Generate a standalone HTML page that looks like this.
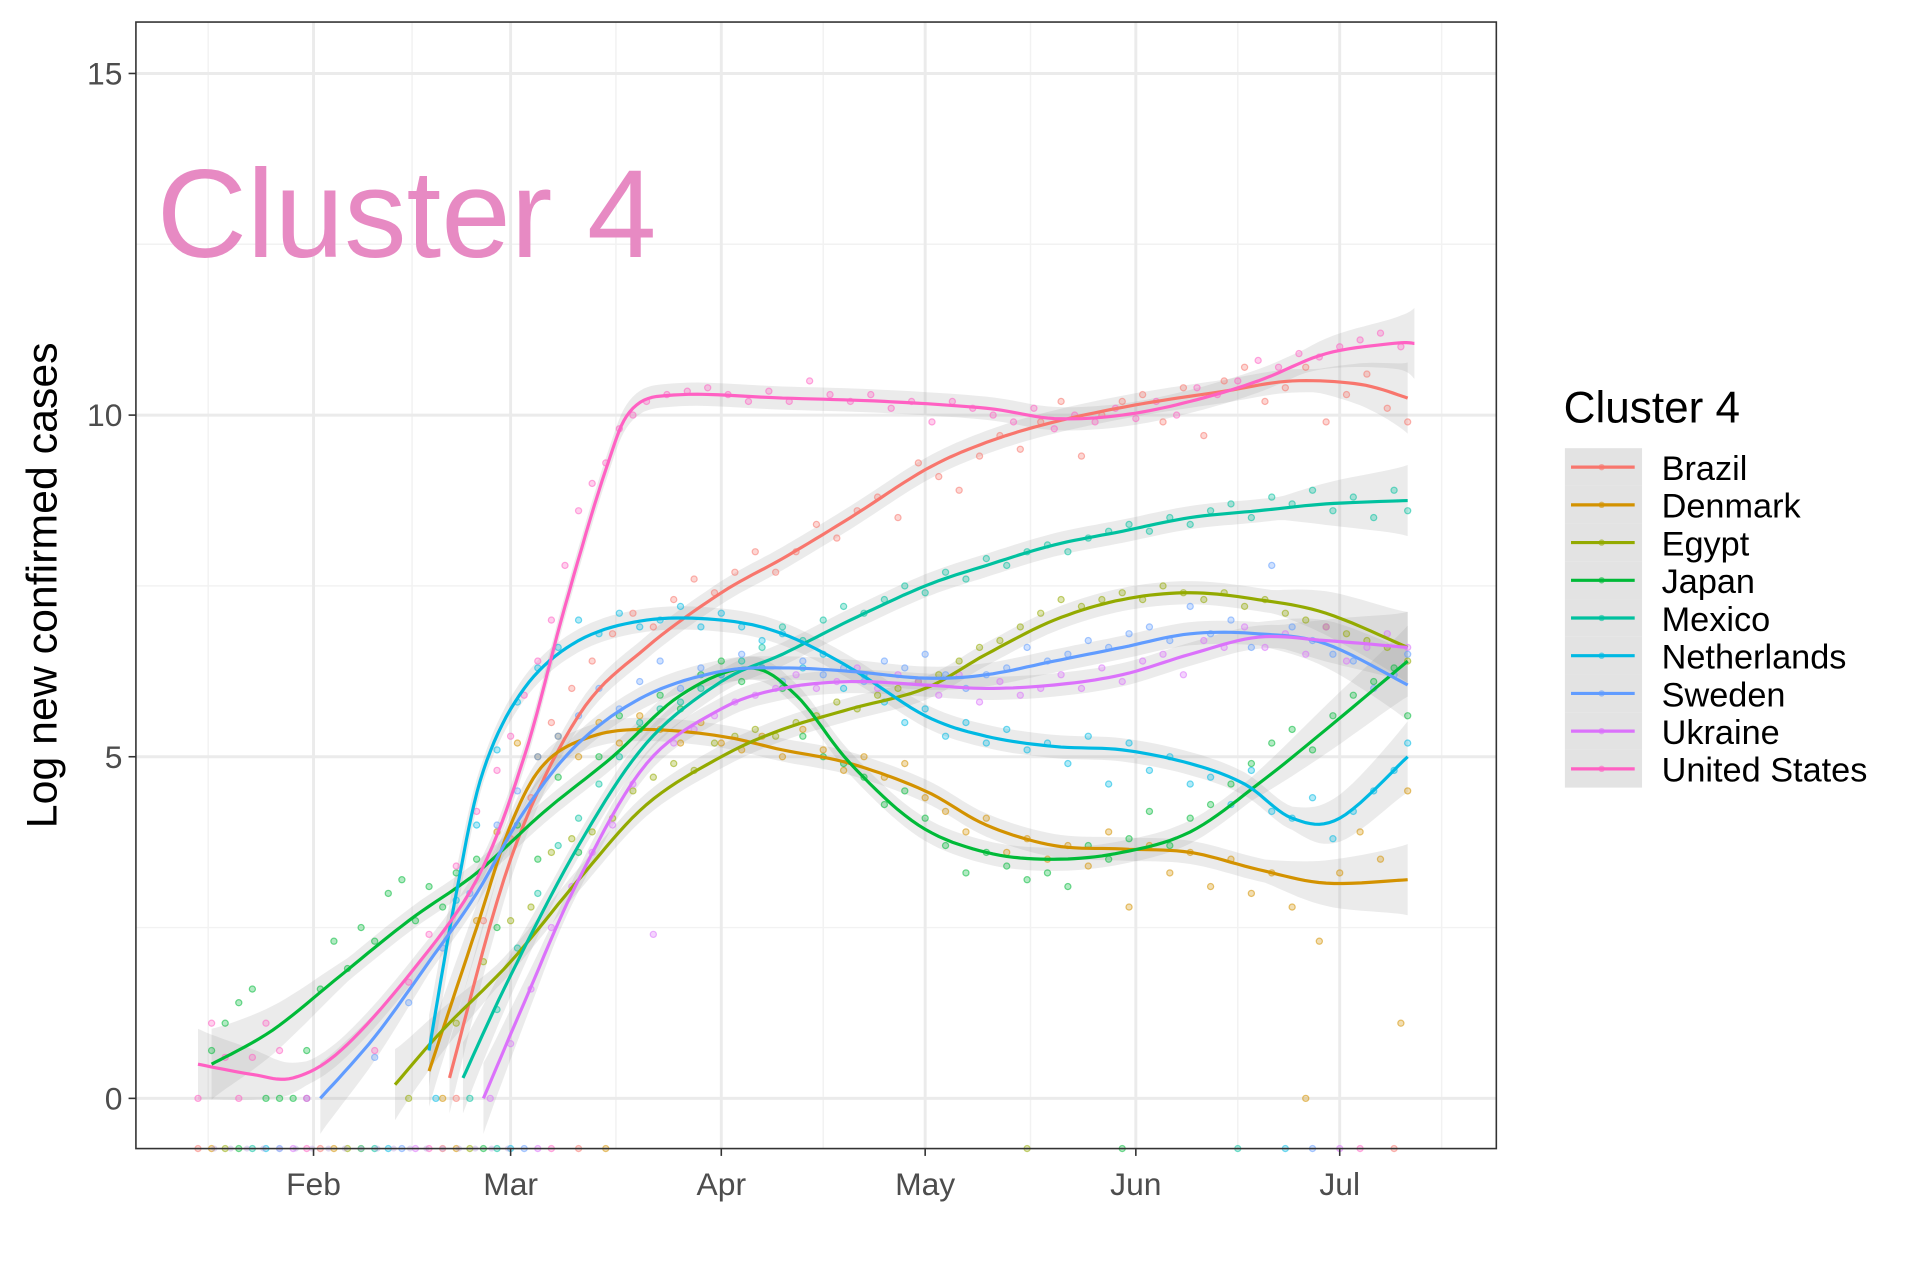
<!DOCTYPE html>
<html><head><meta charset="utf-8"><style>
html,body{margin:0;padding:0;background:#fff;}
svg{display:block;font-family:"Liberation Sans",Arial,sans-serif;}
</style></head><body>
<svg id="chart" width="1920" height="1280" viewBox="0 0 1568 1045.33" xmlns="http://www.w3.org/2000/svg">
<rect x="0" y="0" width="1568" height="1046" fill="#fff"/>
<g id="grid"></g>
<g id="bands"></g>
<g id="points"></g>
<g id="lines"></g>
<rect x="111" y="18" width="1111" height="920" fill="none" stroke="#333" stroke-width="1.3"/>
<g id="axes"></g>
<text x="128" y="210" font-size="102" fill="#E78AC3">Cluster 4</text>
<text transform="translate(46,478) rotate(-90)" text-anchor="middle" font-size="35" fill="#000">Log new confirmed cases</text>
<g id="legend">
<text x="1277" y="345" font-size="36" fill="#000">Cluster 4</text>
</g>
</svg>
<script>
const NS="http://www.w3.org/2000/svg";
const seriesNames=["Brazil","Denmark","Egypt","Japan","Mexico","Netherlands","Sweden","Ukraine","United States"];
const seriesColors=["#F8766D","#D39200","#93AA00","#00BA38","#00C19F","#00B9E3","#619CFF","#DB72FB","#FF61C3"];
const monthLabels=["Feb","Mar","Apr","May","Jun","Jul"];
const monthDays=[31,60,91,121,152,182];
const yTicks=[0,5,10,15];
const smoothBrazil=[[51,0.3],[60,3.5],[70,5.6],[80,6.6],[91,7.4],[100,7.9],[110,8.5],[121,9.2],[130,9.6],[140,9.9],[152,10.15],[165,10.35],[175,10.5],[185,10.45],[192,10.25]];
const smoothDenmark=[[48,0.4],[55,2.5],[60,4.0],[65,4.9],[72,5.3],[80,5.4],[91,5.3],[100,5.1],[110,4.9],[121,4.5],[130,4.0],[140,3.7],[150,3.65],[160,3.6],[170,3.35],[180,3.15],[192,3.2]];
const smoothEgypt=[[43,0.2],[50,1.0],[60,2.0],[70,3.2],[80,4.3],[91,5.0],[100,5.4],[110,5.7],[121,6.0],[130,6.5],[140,7.0],[150,7.3],[160,7.4],[170,7.3],[180,7.1],[192,6.6]];
const smoothJapan=[[16,0.5],[25,1.0],[35,1.8],[45,2.6],[55,3.3],[65,4.2],[75,5.0],[85,5.9],[95,6.3],[102,5.9],[110,4.9],[120,4.0],[130,3.6],[140,3.5],[150,3.6],[160,3.9],[170,4.6],[180,5.4],[192,6.4]];
const smoothMexico=[[53,0.3],[60,1.8],[70,3.7],[80,5.2],[91,6.1],[100,6.5],[110,7.0],[121,7.5],[130,7.8],[140,8.1],[150,8.3],[160,8.5],[170,8.6],[180,8.7],[192,8.75]];
const smoothNetherlands=[[48,0.7],[52,3.0],[56,4.8],[62,6.0],[70,6.7],[80,7.0],[91,7.0],[100,6.8],[110,6.3],[121,5.6],[130,5.3],[140,5.15],[150,5.1],[160,4.9],[168,4.6],[175,4.1],[182,4.1],[192,5.0]];
const smoothSweden=[[32,0.0],[40,0.9],[48,2.0],[55,3.0],[62,4.2],[70,5.2],[80,5.9],[91,6.25],[100,6.3],[110,6.25],[121,6.15],[130,6.2],[140,6.4],[150,6.6],[160,6.8],[170,6.8],[180,6.65],[192,6.05]];
const smoothUkraine=[[56,0.0],[62,1.4],[70,3.2],[80,4.9],[91,5.7],[100,6.0],[110,6.1],[121,6.05],[130,6.0],[140,6.05],[150,6.2],[160,6.5],[170,6.75],[180,6.7],[192,6.6]];
const smoothUS=[[14,0.5],[22,0.35],[28,0.3],[35,0.7],[45,1.8],[55,3.2],[62,5.0],[68,7.2],[74,9.2],[78,10.1],[85,10.3],[100,10.25],[115,10.2],[130,10.1],[140,9.95],[150,10.0],[160,10.2],[170,10.5],[180,10.9],[190,11.05],[193,11.05]];
const ptsBrazil=[[52,0],[56,2.6],[60,3.8],[63,4.4],[66,5.5],[69,6.0],[72,6.4],[75,6.8],[78,7.1],[81,6.9],[84,7.3],[87,7.6],[90,7.4],[93,7.7],[96,8.0],[99,7.7],[102,8.0],[105,8.4],[108,8.2],[111,8.6],[114,8.8],[117,8.5],[120,9.3],[123,9.1],[126,8.9],[129,9.4],[132,9.7],[135,9.5],[138,9.9],[141,10.2],[144,9.4],[147,10.0],[150,10.2],[153,10.3],[156,9.9],[159,10.4],[162,9.7],[165,10.5],[168,10.7],[171,10.2],[174,10.4],[177,10.7],[180,9.9],[183,10.3],[186,10.6],[189,10.1],[192,9.9]];
const ptsDenmark=[[50,0],[55,2.6],[58,3.9],[61,5.2],[64,5.0],[67,5.3],[70,5.0],[73,5.5],[76,5.2],[79,5.6],[82,5.4],[85,5.2],[88,5.5],[91,5.2],[94,5.1],[97,5.3],[100,5.0],[103,5.4],[106,5.1],[109,4.8],[112,5.0],[115,4.7],[118,4.9],[121,4.4],[124,4.2],[127,3.9],[130,4.1],[133,3.6],[136,3.8],[139,3.5],[142,3.7],[145,3.4],[148,3.9],[151,2.8],[154,3.7],[157,3.3],[160,3.6],[163,3.1],[166,3.5],[169,3.0],[172,3.3],[175,2.8],[177,0],[179,2.3],[182,3.3],[185,3.9],[188,3.5],[191,1.1],[192,4.5]];
const ptsEgypt=[[45,0],[52,1.1],[56,2.0],[60,2.6],[63,2.8],[66,3.6],[69,3.8],[72,3.9],[75,4.1],[78,4.5],[81,4.7],[84,4.9],[87,4.8],[90,5.2],[93,5.3],[96,5.4],[99,5.3],[102,5.5],[105,5.6],[108,5.8],[111,5.7],[114,5.9],[117,6.0],[120,6.1],[123,6.2],[126,6.4],[129,6.6],[132,6.7],[135,6.9],[138,7.1],[141,7.3],[144,7.2],[147,7.3],[150,7.4],[153,7.3],[156,7.5],[159,7.4],[162,7.3],[165,7.4],[168,7.2],[171,7.3],[174,7.1],[177,7.0],[180,6.9],[183,6.8],[186,6.7],[189,6.6],[192,6.4]];
const ptsJapan=[[16,0.7],[18,1.1],[20,1.4],[22,1.6],[24,0],[26,0],[28,0],[30,0.7],[32,1.6],[34,2.3],[36,1.9],[38,2.5],[40,2.3],[42,3.0],[44,3.2],[46,2.6],[48,3.1],[50,2.8],[52,3.3],[55,3.5],[58,2.5],[61,4.0],[64,3.5],[67,4.7],[70,3.6],[73,5.0],[76,5.6],[79,5.4],[82,5.9],[85,5.7],[88,6.2],[91,6.4],[94,6.1],[97,6.3],[100,6.0],[103,5.3],[106,5.0],[109,4.9],[112,4.7],[115,4.3],[118,4.5],[121,4.1],[124,3.7],[127,3.3],[130,3.6],[133,3.4],[136,3.2],[139,3.3],[142,3.1],[145,3.7],[148,3.5],[151,3.8],[154,4.2],[157,3.7],[160,4.1],[163,4.3],[166,4.6],[169,4.9],[172,5.2],[175,5.4],[178,5.1],[181,5.6],[184,5.9],[187,6.1],[190,6.3],[192,5.6]];
const ptsMexico=[[54,0],[58,1.3],[61,2.2],[64,3.0],[67,3.7],[70,4.1],[73,4.6],[76,5.0],[79,5.5],[82,5.7],[85,5.8],[88,6.0],[91,6.2],[94,6.4],[97,6.6],[100,6.9],[103,6.7],[106,7.0],[109,7.2],[112,7.1],[115,7.3],[118,7.5],[121,7.4],[124,7.7],[127,7.6],[130,7.9],[133,7.8],[136,8.0],[139,8.1],[142,8.0],[145,8.2],[148,8.3],[151,8.4],[154,8.3],[157,8.5],[160,8.4],[163,8.6],[166,8.7],[169,8.5],[172,8.8],[175,8.7],[178,8.9],[181,8.6],[184,8.8],[187,8.5],[190,8.9],[192,8.6]];
const ptsNetherlands=[[49,0],[52,2.9],[55,4.0],[58,5.1],[61,5.8],[64,6.3],[67,6.6],[70,7.0],[73,6.8],[76,7.1],[79,6.9],[82,7.0],[85,7.2],[88,6.9],[91,7.1],[94,6.9],[97,6.7],[100,6.8],[103,6.3],[106,6.5],[109,6.0],[112,6.2],[115,5.8],[118,5.5],[121,5.7],[124,5.3],[127,5.5],[130,5.2],[133,5.4],[136,5.1],[139,5.2],[142,4.9],[145,5.3],[148,4.6],[151,5.2],[154,4.8],[157,5.0],[160,4.6],[163,4.7],[166,4.3],[169,4.8],[172,4.2],[175,4.1],[178,4.4],[181,3.8],[184,4.2],[187,4.5],[190,4.8],[192,5.2]];
const ptsSweden=[[30,0],[40,0.6],[45,1.4],[50,2.2],[54,3.0],[58,4.0],[61,4.5],[64,5.0],[67,5.3],[70,5.6],[73,6.0],[76,5.7],[79,6.1],[82,6.4],[85,6.0],[88,6.3],[91,6.2],[94,6.5],[97,6.3],[100,6.1],[103,6.4],[106,6.2],[109,6.3],[112,6.1],[115,6.4],[118,6.3],[121,6.5],[124,6.2],[127,6.0],[130,6.2],[133,6.3],[136,6.6],[139,6.4],[142,6.5],[145,6.7],[148,6.6],[151,6.8],[154,6.9],[157,6.7],[160,7.2],[163,6.8],[166,7.0],[169,6.6],[172,7.8],[175,6.9],[178,6.7],[181,6.5],[184,6.4],[187,6.0],[190,6.2],[192,6.5]];
const ptsUkraine=[[57,0],[60,0.8],[63,1.6],[66,2.5],[69,3.1],[72,3.6],[75,4.0],[78,4.6],[81,2.4],[84,5.2],[87,5.4],[90,5.6],[93,5.8],[96,5.9],[99,6.0],[102,6.2],[105,6.0],[108,6.1],[111,6.3],[114,6.0],[117,6.2],[120,6.1],[123,5.9],[126,6.2],[129,5.8],[132,6.1],[135,5.9],[138,6.0],[141,6.2],[144,6.0],[147,6.3],[150,6.1],[153,6.4],[156,6.5],[159,6.2],[162,6.7],[165,6.6],[168,6.9],[171,6.6],[174,6.8],[177,6.5],[180,6.9],[183,6.4],[186,6.6],[189,6.8],[192,6.6]];
const ptsUS=[[14,0],[16,1.1],[18,0.6],[20,0],[22,0.6],[24,1.1],[26,0.7],[30,0],[40,0.7],[45,1.7],[48,2.4],[52,3.4],[55,4.2],[58,4.8],[60,5.3],[62,5.9],[64,6.4],[66,7.0],[68,7.8],[70,8.6],[72,9.0],[74,9.3],[76,9.8],[78,10.0],[80,10.2],[83,10.3],[86,10.35],[89,10.4],[92,10.3],[95,10.2],[98,10.35],[101,10.2],[104,10.5],[107,10.3],[110,10.2],[113,10.3],[116,10.1],[119,10.2],[122,9.9],[125,10.2],[128,10.1],[131,10.0],[134,9.9],[137,10.1],[140,9.8],[143,10.0],[146,9.9],[149,10.1],[152,9.95],[155,10.2],[158,10.0],[161,10.4],[164,10.3],[167,10.5],[170,10.8],[173,10.7],[176,10.9],[179,10.85],[182,11.0],[185,11.1],[188,11.2],[191,11.0]];
const zeroCaseDays=[14,16,18,20,22,24,26,28,30,32,34,36,38,40,42,44,46,48,50,52,54,56,58,60,62,64,66,70,74,136,150,167,174,178,182,185,190];
const smoothSets=[smoothBrazil,smoothDenmark,smoothEgypt,smoothJapan,smoothMexico,smoothNetherlands,smoothSweden,smoothUkraine,smoothUS];
const pointSets=[ptsBrazil,ptsDenmark,ptsEgypt,ptsJapan,ptsMexico,ptsNetherlands,ptsSweden,ptsUkraine,ptsUS];

const X=d=>84+d*5.55;
const Y=v=>897-v*55.8;
const PB=938;
function el(t,a,p){const e=document.createElementNS(NS,t);for(const k in a)e.setAttribute(k,a[k]);p.appendChild(e);return e;}
const grid=document.getElementById('grid');
el('rect',{x:111,y:18,width:1111,height:920,fill:'#fff'},grid);
[2.5,7.5,12.5].forEach(v=>{const l=el('line',{x1:111,x2:1222,y1:Y(v),y2:Y(v),stroke:'#F2F2F2','stroke-width':1.2},grid);
});
monthDays.forEach((d,i)=>{const m=i==0?d-15.5:(d+monthDays[i-1])/2;const l=el('line',{x1:X(m),x2:X(m),y1:18,y2:938,stroke:'#F2F2F2','stroke-width':1.2},grid);
});
{const l=el('line',{x1:X(197),x2:X(197),y1:18,y2:938,stroke:'#F2F2F2','stroke-width':1.2},grid);}
yTicks.forEach(v=>{const l=el('line',{x1:111,x2:1222,y1:Y(v),y2:Y(v),stroke:'#EBEBEB','stroke-width':2.4},grid);
});
monthDays.forEach(d=>{const l=el('line',{x1:X(d),x2:X(d),y1:18,y2:938,stroke:'#EBEBEB','stroke-width':2.4},grid);
});
const axes=document.getElementById('axes');
yTicks.forEach(v=>{el('line',{x1:105,x2:111,y1:Y(v),y2:Y(v),stroke:'#333','stroke-width':1.3},axes);
const t=el('text',{x:100,y:Y(v)+9,'text-anchor':'end','font-size':26,fill:'#4D4D4D'},axes);t.textContent=v;
});
monthDays.forEach((d,i)=>{el('line',{x1:X(d),x2:X(d),y1:938,y2:944,stroke:'#333','stroke-width':1.3},axes);
const t=el('text',{x:X(d),y:976,'text-anchor':'middle','font-size':26,fill:'#4D4D4D'},axes);t.textContent=monthLabels[i];
});
function sample(pts){const out=[];for(let i=0;i<pts.length-1;i++){const p0=pts[Math.max(0,i-1)],p1=pts[i],p2=pts[i+1],p3=pts[Math.min(pts.length-1,i+2)];
for(let s=0;s<10;s++){const t=s/10,t2=t*t,t3=t2*t;const f=(a,b,c,d)=>0.5*((2*b)+(-a+c)*t+(2*a-5*b+4*c-d)*t2+(-a+3*b-3*c+d)*t3);
out.push([f(p0[0],p1[0],p2[0],p3[0]),f(p0[1],p1[1],p2[1],p3[1])]);}}out.push(pts[pts.length-1]);return out;}
const bands=document.getElementById('bands'),lines=document.getElementById('lines'),points=document.getElementById('points');
zeroCaseDays.forEach((d,j)=>{const c=el('circle',{cx:X(d),cy:PB,r:2.5,fill:seriesColors[j%9],'fill-opacity':0.3,stroke:seriesColors[j%9],'stroke-opacity':0.5,'stroke-width':1},points);
});
for(let k=1;k<20;k++){const c=el('circle',{cx:X(14+k*2.4),cy:PB,r:2.5,fill:'#B89FE0','fill-opacity':0.4},points);}
seriesNames.forEach((n,i)=>{
  const col=seriesColors[i];
  const s=sample(smoothSets[i]);const N=s.length;
  const hw=j=>{const e=Math.min(j,N-1-j)/N;return 0.17+Math.max(0,0.35-e*3);};
  let d='';s.forEach((p,j)=>{d+=(j?'L':'M')+X(p[0]).toFixed(1)+','+Math.max(18,Y(p[1]+hw(j))).toFixed(1);});
  for(let j=N-1;j>=0;j--){d+='L'+X(s[j][0]).toFixed(1)+','+Math.min(938,Y(s[j][1]-hw(j))).toFixed(1);}
  const b=el('path',{d:d+'Z',fill:'#999','fill-opacity':0.2},bands);
  
  pointSets[i].forEach(p=>{const c=el('circle',{cx:X(p[0]),cy:Y(p[1]),r:2.5,fill:col,'fill-opacity':0.3,stroke:col,'stroke-opacity':0.55,'stroke-width':1},points);
    });
  let ld='';s.forEach((p,j)=>{ld+=(j?'L':'M')+X(p[0]).toFixed(1)+','+Y(p[1]).toFixed(1);});
  const l=el('path',{d:ld,fill:'none',stroke:col,'stroke-width':2.6},lines);
  
  const lg=document.getElementById('legend');const y=366+i*30.8;
  const g=el('g',{},lg);
  el('rect',{x:1278,y:y,width:63,height:30.8,fill:'#E3E3E3'},g);
  el('line',{x1:1283,x2:1335,y1:y+15.5,y2:y+15.5,stroke:col,'stroke-width':2.6},g);
  el('circle',{cx:1308,cy:y+15.5,r:2.6,fill:col,'fill-opacity':0.6},g);
  const t=el('text',{x:1357,y:y+26,'font-size':28,fill:'#000'},g);t.textContent=n;
});
</script>
</body></html>
